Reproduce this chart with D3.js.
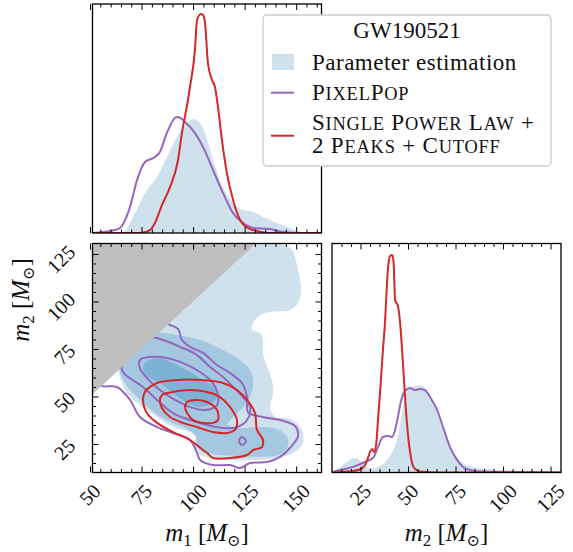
<!DOCTYPE html>
<html>
<head>
<meta charset="utf-8">
<script src="https://cdnjs.cloudflare.com/ajax/libs/d3/7.8.5/d3.min.js"></script>
<style>
  body { margin: 0; background: #fff; }
  svg { display: block; }
  text { font-family: "Liberation Serif", "DejaVu Serif", serif; fill: #111; }
</style>
</head>
<body>
<div id="chart"></div>
<script>
// axis setup
var m1Ticks = [50, 75, 100, 125, 150]
var m2Ticks = [25, 50, 75, 100, 125]
var m1Range = [51.2, 162.3]
var m2Range = [10, 130.5]

// 1D marginals, [mass, relative density]
var m1PE = [[60,0],[66.0,0.004],[71.8,0.087],[76.7,0.175],[82.5,0.245],[87.3,0.332],[92.2,0.419],[97.1,0.48],[100.0,0.498],[102.4,0.489],[105.8,0.437],[109.7,0.319],[114.5,0.20],[119.4,0.131],[124.2,0.10],[129.1,0.092],[134.0,0.07],[140.7,0.044],[147.0,0.022],[151.9,0.004],[156,0]]
var m1PixelPop = [[51.2,0],[56.3,0.004],[60.5,0.01],[64.5,0.022],[69.4,0.114],[72.8,0.231],[76.7,0.31],[81.5,0.332],[83.9,0.354],[87.3,0.437],[91.2,0.502],[92.7,0.507],[96.1,0.485],[100.9,0.437],[104.8,0.376],[109.7,0.275],[114.5,0.175],[119.4,0.087],[124.2,0.044],[129.1,0.022],[137.3,0.017],[143.6,0.004],[153.3,0],[162.3,0]]
var m1PowerLaw = [[51.2,0],[74.2,0],[79.1,0.013],[81.5,0.044],[84.9,0.122],[88.8,0.20],[92.7,0.319],[94.6,0.437],[97.5,0.58],[98.5,0.638],[100.9,0.80],[101.9,0.93],[103.8,0.956],[104.8,0.952],[105.8,0.917],[107.2,0.742],[109.2,0.668],[110.6,0.638],[112.1,0.55],[114.0,0.406],[116.4,0.262],[119.4,0.144],[122.8,0.057],[126.6,0.022],[131.0,0.009],[137.3,0],[162.3,0]]

var m2PE = [[10,0],[11.6,0.007],[15.3,0.028],[18.4,0.05],[21.1,0.063],[23.7,0.059],[25.8,0.041],[28.4,0.024],[31.1,0.02],[34.2,0.024],[37.4,0.041],[40.5,0.072],[43.7,0.129],[45.8,0.207],[47.9,0.308],[50.0,0.36],[52.6,0.373],[56.3,0.382],[58.9,0.369],[61.6,0.334],[65.3,0.264],[69.5,0.159],[73.7,0.09],[77.4,0.05],[82.6,0.028],[90.5,0.015],[103.7,0.009],[119.5,0.004],[130.5,0.002]]
var m2PixelPop = [[10,0],[10.5,0.002],[16.8,0.015],[22.1,0.028],[27.4,0.046],[31.6,0.063],[34.2,0.111],[36.8,0.155],[39.5,0.159],[41.6,0.155],[43.2,0.186],[44.7,0.242],[46.3,0.312],[48.4,0.356],[51.1,0.369],[53.7,0.36],[56.3,0.365],[58.9,0.36],[61.6,0.33],[65.3,0.273],[68.4,0.199],[72.1,0.111],[75.8,0.055],[78.9,0.024],[82.6,0.011],[87.9,0.004],[98.4,0.002],[130.5,0]]
var m2PowerLaw = [[10,0],[19.5,0.005],[24.7,0.013],[27.4,0.033],[28.9,0.063],[30.0,0.09],[31.1,0.103],[32.1,0.09],[33.2,0.12],[34.2,0.229],[35.3,0.352],[36.8,0.535],[37.9,0.657],[38.9,0.819],[39.5,0.893],[40.5,0.945],[41.6,0.95],[42.4,0.919],[43.2,0.753],[44.7,0.727],[45.8,0.657],[47.4,0.469],[48.9,0.273],[50.0,0.164],[51.6,0.063],[53.2,0.02],[56.3,0.004],[66.8,0],[130.5,0]]

// 2D contours, [m1, m2]
var peOuter = [[127.6,131],[137.3,131],[144.6,129.6],[148.0,127.1],[149.4,123.4],[150.9,116.6],[152.4,106.1],[150.9,99.2],[147.0,95.5],[137.3,94.5],[132.5,92.9],[129.1,88.7],[128.6,85.0],[132.5,83.4],[133.9,79.7],[133.9,72.9],[135.9,65.5],[138.3,58.7],[138.8,51.8],[137.3,44.5],[139.8,39.2],[145.6,38.7],[150.4,36.1],[153.3,30.8],[152.9,24.5],[148.5,20.3],[140.7,17.6],[131.0,16.6],[117.9,16.6],[106.8,18.2],[101.9,20.3],[100.0,25.5],[102.4,29.7],[98.5,31.3],[90.3,33.9],[82.5,39.2],[75.7,44.5],[69.4,49.7],[65.5,57.1],[64.0,64.0],[70,95],[100,128]]
var peMid = [[74.2,85.0],[82.5,83.9],[92.2,82.4],[103.4,79.7],[114.5,74.5],[122.8,69.2],[127.6,63.9],[129.1,58.7],[128.6,52.4],[125.2,45.5],[120.3,40.3],[116.9,35.0],[122.8,33.4],[131.0,33.9],[140.7,32.9],[145.6,28.7],[145.6,22.9],[141.2,19.2],[132.5,18.2],[122.8,18.7],[113.1,19.2],[105.8,20.8],[101.9,24.0],[101.4,28.7],[96.1,33.4],[88.8,36.6],[81.5,41.3],[74.2,48.2],[67.9,55.5],[64.5,62.9],[62,75],[68,88]]
var peInner = [[76.7,67.6],[82.5,70.3],[90.3,67.6],[98.5,62.9],[104.8,58.7],[109.7,55.0],[111.6,49.7],[109.2,46.6],[103.4,44.5],[97.1,46.6],[90.3,51.8],[83.9,57.1],[78.1,60.3],[75.7,63.9]]

var ppOuter = [[54.8,56.1],[63.1,55.0],[69.4,48.2],[74.2,39.2],[82.5,33.9],[90.3,30.8],[98.5,27.1],[101.9,20.3],[103.4,16.6],[109.7,13.9],[117.9,13.9],[122.8,12.4],[127.6,15.0],[135.9,15.5],[142.2,18.2],[147.0,22.9],[150.9,29.2],[149.4,34.5],[142.2,37.6],[133.9,39.2],[126.6,41.8],[126.2,49.7],[123.7,57.1],[117.9,62.4],[111.6,66.6],[104.8,72.9],[98.5,76.1],[94.6,79.7],[92.7,85.5],[88.8,87.6],[75,92],[55,70]]
var ppMid = [[66.0,62.9],[75.7,55.0],[82.5,48.2],[90.3,41.3],[98.5,37.6],[106.8,35.0],[114.5,33.4],[121.3,33.9],[126.2,37.6],[127.6,44.5],[124.2,49.7],[119.4,55.0],[114.5,60.3],[108.2,65.5],[101.9,71.8],[93.7,76.1],[85.4,79.7],[79.1,81.3],[74.2,79.7],[69.4,74.5],[65.5,68.2]]
var ppInner = [[74.2,69.2],[83.9,70.8],[93.7,68.2],[103.4,62.9],[109.2,57.6],[112.1,50.8],[111.6,45.5],[105.8,42.9],[98.5,44.5],[91.2,48.2],[83.9,53.4],[77.6,59.7],[74.2,65.0]]
var ppIsland = [[122.3,26.6],[123.7,28.7],[125.7,26.6],[123.7,24.5]]

var plOuter = [[76.7,52.4],[82.5,57.1],[92.2,58.7],[103.4,58.7],[114.5,57.1],[121.3,53.4],[126.2,48.2],[130.0,41.3],[131.0,32.4],[133.9,27.1],[133.4,23.4],[129.1,21.8],[126.2,19.2],[117.9,17.6],[109.7,17.6],[106.8,20.3],[104.8,21.8],[98.5,27.1],[90.3,31.3],[82.5,36.1],[77.6,41.3],[75.7,48.2]]
var plMid = [[84.9,50.8],[90.3,52.4],[98.5,53.4],[106.8,52.4],[113.1,49.7],[117.9,44.5],[121.3,37.6],[120.3,32.4],[116.5,30.8],[109.7,31.3],[101.9,33.9],[95.1,36.1],[88.8,39.2],[84.9,43.9],[83.9,48.2]]
var plInner = [[97.1,47.1],[101.9,48.2],[106.8,47.1],[111.6,42.9],[112.1,37.6],[109.7,36.1],[104.8,36.1],[100.0,37.6],[97.1,41.3],[96.1,44.5]]

var legendTitle = 'GW190521'
var legendLabels = ['Parameter estimation', 'PixelPop', 'Single Power Law +', '2 Peaks + Cutoff']

var blueLight = '#cfe1ed'
var blueMid = '#a5c8e1'
var blueDark = '#7db1d6'
var purple = '#9467bd'
var red = '#d62728'

var W = 573, H = 552
var svg = d3.select('#chart').append('svg').attr('width', W).attr('height', H)

var L = 92.5, M = 321.5, R0 = 332, R1 = 561
var T = 4, B1 = 233, T2 = 243.5, B2 = 472.5

var x1 = d3.scaleLinear().domain(m1Range).range([L, M])
var x2 = d3.scaleLinear().domain(m2Range).range([R0, R1])
var y2 = d3.scaleLinear().domain(m2Range).range([B2, T2])
var yTop = d3.scaleLinear().domain([0, 1]).range([B1, T])
var yRight = d3.scaleLinear().domain([0, 1]).range([B2, T2])

var defs = svg.append('defs')
function clip(id, x, y, w, h) {
    defs.append('clipPath').attr('id', id).append('rect')
        .attr('x', x).attr('y', y).attr('width', w).attr('height', h)
}
clip('cTop', L, T, M - L, B1 - T)
clip('c2d', L, T2, M - L, B2 - T2)
clip('cRight', R0, T2, R1 - R0, B2 - T2)

// ---- top-left: m1 marginal
var gTop = svg.append('g').attr('clip-path', 'url(#cTop)')
var areaTop = d3.area().x(d => x1(d[0])).y0(yTop(0)).y1(d => yTop(d[1])).curve(d3.curveMonotoneX)
var lineTop = d3.line().x(d => x1(d[0])).y(d => yTop(d[1])).curve(d3.curveMonotoneX)
gTop.append('path').datum(m1PE).attr('fill', blueLight).attr('d', areaTop)
gTop.append('path').datum(m1PixelPop).attr('fill', 'none').attr('stroke', purple).attr('stroke-width', 2).attr('d', lineTop)
gTop.append('path').datum(m1PowerLaw).attr('fill', 'none').attr('stroke', red).attr('stroke-width', 2).attr('d', lineTop)

// ---- bottom-right: m2 marginal
var gRight = svg.append('g').attr('clip-path', 'url(#cRight)')
var areaRight = d3.area().x(d => x2(d[0])).y0(yRight(0)).y1(d => yRight(d[1])).curve(d3.curveMonotoneX)
var lineRight = d3.line().x(d => x2(d[0])).y(d => yRight(d[1])).curve(d3.curveMonotoneX)
gRight.append('path').datum(m2PE).attr('fill', blueLight).attr('d', areaRight)
gRight.append('path').datum(m2PixelPop).attr('fill', 'none').attr('stroke', purple).attr('stroke-width', 2).attr('d', lineRight)
gRight.append('path').datum(m2PowerLaw).attr('fill', 'none').attr('stroke', red).attr('stroke-width', 2).attr('d', lineRight)

// ---- bottom-left: 2D
var g2 = svg.append('g').attr('clip-path', 'url(#c2d)')
var contour = d3.line().x(d => x1(d[0])).y(d => y2(d[1])).curve(d3.curveCatmullRomClosed.alpha(0.5))
g2.append('path').datum(peOuter).attr('fill', blueLight).attr('d', contour)
g2.append('path').datum(peMid).attr('fill', blueMid).attr('d', contour)
g2.append('path').datum(peInner).attr('fill', blueDark).attr('d', contour)
g2.selectAll('.pp').data([ppOuter, ppMid, ppInner, ppIsland]).enter().append('path')
    .attr('class', 'pp').attr('fill', 'none').attr('stroke', purple).attr('stroke-width', 2).attr('d', contour)
g2.selectAll('.pl').data([plOuter, plMid, plInner]).enter().append('path')
    .attr('class', 'pl').attr('fill', 'none').attr('stroke', red).attr('stroke-width', 2).attr('d', contour)
// m2 > m1 is not allowed
var forbidden = [[m1Range[0], m1Range[0]], [m1Range[0], m2Range[1]], [m2Range[1], m2Range[1]]]
var straight = d3.line().x(d => x1(d[0])).y(d => y2(d[1]))
g2.append('path').datum(forbidden).attr('fill', '#bfbfbf').attr('d', d => straight(d) + 'Z')

// ---- frames and ticks
function minorOf(range) {
    return d3.range(Math.ceil(range[0] / 5) * 5, range[1], 5).filter(v => v % 25 != 0 && v > range[0] + 0.5 && v < range[1] - 0.5)
}
function tickSet(x, y, axisFn, scale, major, minor) {
    var g = svg.append('g').attr('transform', 'translate(' + x + ',' + y + ')')
    g.append('g').call(axisFn(scale).tickValues(major).tickSize(-6).tickFormat(''))
    g.append('g').call(axisFn(scale).tickValues(minor).tickSize(-3.5).tickFormat(''))
    g.selectAll('.domain').remove()
    g.selectAll('line').attr('stroke', '#000').attr('stroke-width', 1)
}
var m1Minor = minorOf(m1Range), m2Minor = minorOf(m2Range)
tickSet(0, T, d3.axisTop, x1, m1Ticks, m1Minor)
tickSet(0, B1, d3.axisBottom, x1, m1Ticks, m1Minor)
tickSet(0, T2, d3.axisTop, x1, m1Ticks, m1Minor)
tickSet(0, B2, d3.axisBottom, x1, m1Ticks, m1Minor)
tickSet(L, 0, d3.axisLeft, y2, m2Ticks, m2Minor)
tickSet(M, 0, d3.axisRight, y2, m2Ticks, m2Minor)
tickSet(0, T2, d3.axisTop, x2, m2Ticks, m2Minor)
tickSet(0, B2, d3.axisBottom, x2, m2Ticks, m2Minor)

var frames = [[L, T, M - L, B1 - T], [L, T2, M - L, B2 - T2], [R0, T2, R1 - R0, B2 - T2]]
svg.selectAll('.frame').data(frames).enter().append('rect').attr('class', 'frame')
    .attr('x', d => d[0]).attr('y', d => d[1]).attr('width', d => d[2]).attr('height', d => d[3])
    .attr('fill', 'none').attr('stroke', '#000').attr('stroke-width', 1.3)

// ---- tick labels (rotated 45deg)
var fs = 20
function xLabels(scale, ticks) {
    ticks.forEach(t => {
        var txt = svg.append('text').attr('font-size', fs).text(t)
        var w = txt.node().getComputedTextLength()
        var half = (w + fs * 0.66) / (2 * Math.SQRT2)
        txt.attr('text-anchor', 'middle').attr('dy', '0.33em')
            .attr('transform', 'translate(' + scale(t) + ',' + (B2 + 10.5 + half) + ') rotate(-45)')
    })
}
xLabels(x1, m1Ticks)
xLabels(x2, m2Ticks)
m2Ticks.forEach(t => {
    var txt = svg.append('text').attr('font-size', fs).text(t)
    var w = txt.node().getComputedTextLength()
    var half = (w + fs * 0.66) / (2 * Math.SQRT2)
    txt.attr('text-anchor', 'middle').attr('dy', '0.33em')
        .attr('transform', 'translate(' + (76.5 - half) + ',' + (y2(t) + 5.5) + ') rotate(-45)')
})

// ---- axis titles
function massTitle(sel, idx) {
    sel.append('tspan').attr('font-style', 'italic').text('m')
    sel.append('tspan').attr('font-size', 17).attr('dy', 5).text(idx)
    sel.append('tspan').attr('dy', -5).text(' [')
    sel.append('tspan').attr('font-style', 'italic').text('M')
    sel.append('tspan').attr('font-size', 16).attr('dy', 5).attr('font-family', 'DejaVu Serif').text('\u2299')
    sel.append('tspan').attr('dy', -5).text(']')
}
massTitle(svg.append('text').attr('font-size', 25).attr('text-anchor', 'middle')
    .attr('x', (L + M) / 2).attr('y', 541), '1')
massTitle(svg.append('text').attr('font-size', 25).attr('text-anchor', 'middle')
    .attr('x', (R0 + R1) / 2).attr('y', 541), '2')
massTitle(svg.append('text').attr('font-size', 25).attr('text-anchor', 'middle')
    .attr('transform', 'translate(29,300) rotate(-90)'), '2')

// ---- legend
var lg = svg.append('g')
lg.append('rect').attr('x', 263).attr('y', 15).attr('width', 288).attr('height', 151).attr('rx', 4)
    .attr('fill', '#fff').attr('stroke', '#cccccc').attr('stroke-width', 1.3)
var lfs = 23
lg.append('text').attr('font-size', lfs).attr('text-anchor', 'middle').attr('x', 407).attr('y', 38).text(legendTitle)
lg.append('rect').attr('x', 272).attr('y', 54).attr('width', 22).attr('height', 16).attr('fill', blueLight)
lg.append('line').attr('x1', 271).attr('x2', 294).attr('y1', 92.7).attr('y2', 92.7).attr('stroke', purple).attr('stroke-width', 2)
lg.append('line').attr('x1', 271).attr('x2', 294).attr('y1', 135.7).attr('y2', 135.7).attr('stroke', red).attr('stroke-width', 2)

function smallCaps(sel, str) {
    var parts = str.match(/[a-z]+|[^a-z]+/g)
    parts.forEach(p => {
        if (/[a-z]/.test(p)) sel.append('tspan').attr('font-size', lfs * 0.8).text(p.toUpperCase())
        else sel.append('tspan').text(p)
    })
}
lg.append('text').attr('font-size', lfs).attr('letter-spacing', 0.5).attr('x', 312).attr('y', 70).text(legendLabels[0])
smallCaps(lg.append('text').attr('font-size', lfs).attr('letter-spacing', 0.8).attr('x', 312).attr('y', 100), legendLabels[1])
smallCaps(lg.append('text').attr('font-size', lfs).attr('letter-spacing', 0.8).attr('x', 312).attr('y', 130), legendLabels[2])
smallCaps(lg.append('text').attr('font-size', lfs).attr('letter-spacing', 0.8).attr('x', 312).attr('y', 153), legendLabels[3])
</script>
</body>
</html>
